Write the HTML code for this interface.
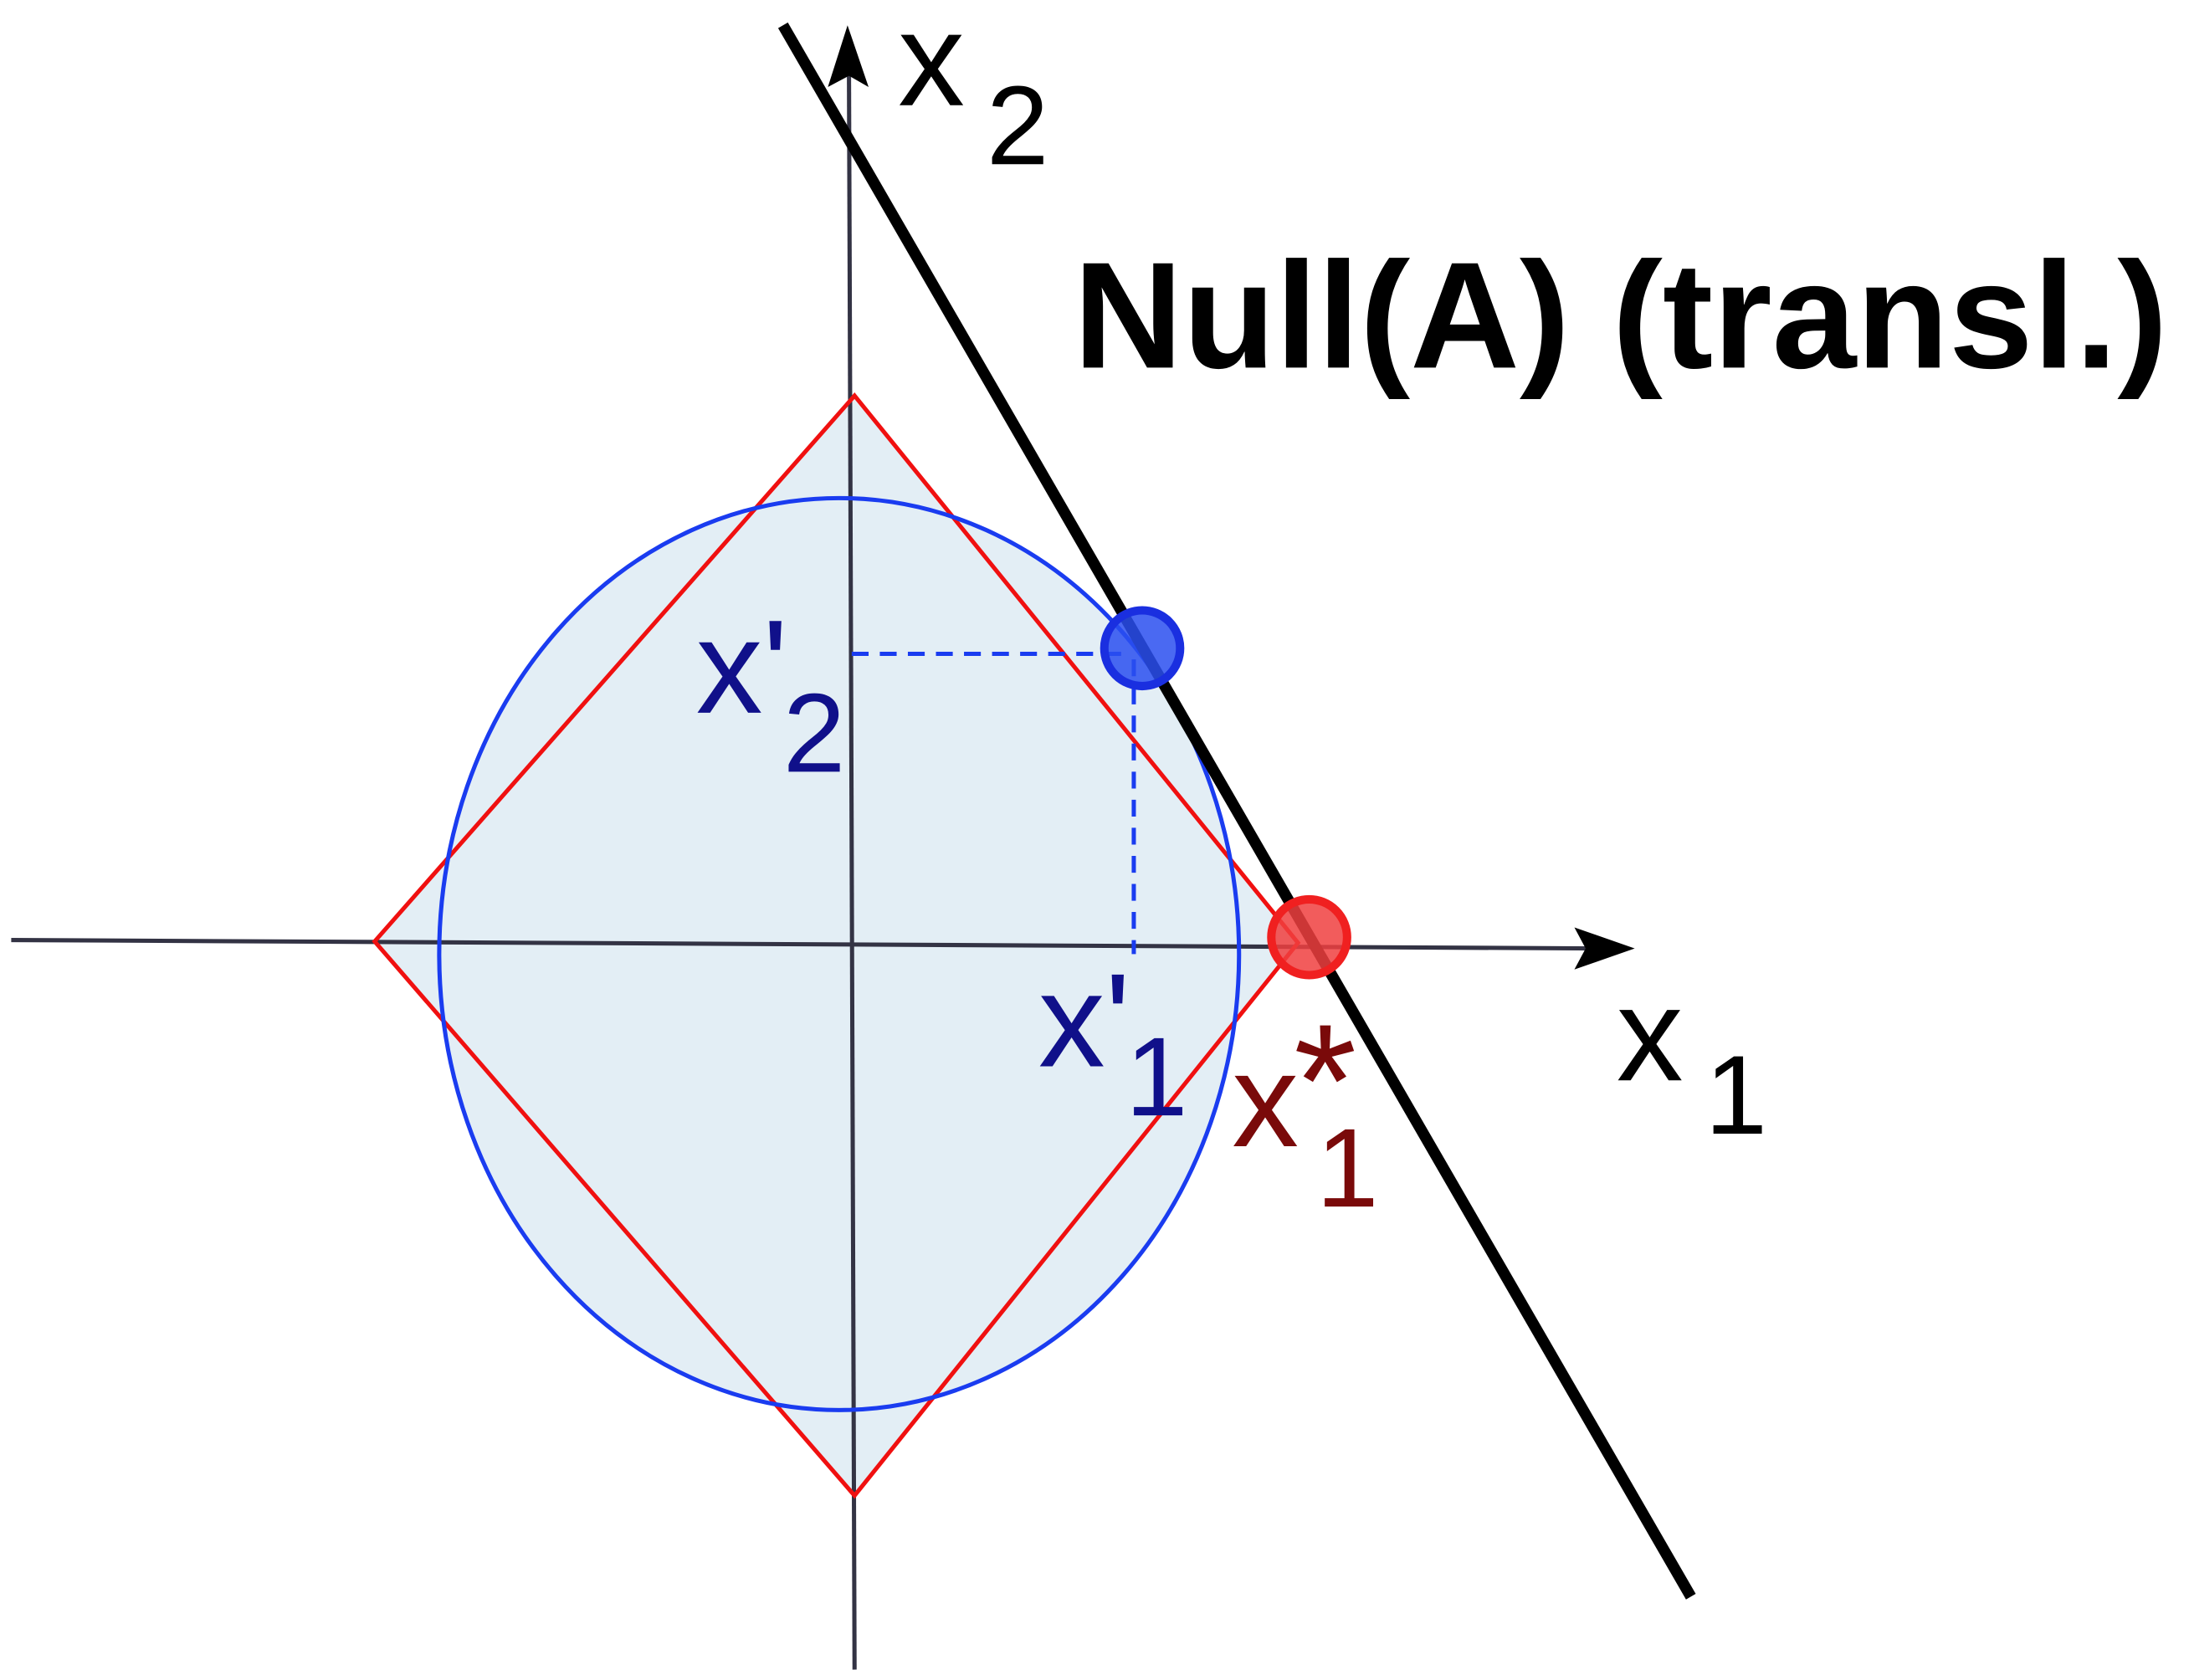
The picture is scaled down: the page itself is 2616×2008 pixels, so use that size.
<!DOCTYPE html>
<html><head><meta charset="utf-8"><style>
html,body{margin:0;padding:0;background:#fff;}
svg{display:block;}
text{font-family:"Liberation Sans",sans-serif;}
</style></head><body>
<svg width="2616" height="2008" viewBox="0 0 1560 1197.4" xmlns="http://www.w3.org/2000/svg">
<ellipse cx="598" cy="680" rx="285" ry="325" fill="#e3eef5"/>
<polygon points="609,282 925,672 609,1066 267,671" fill="#e3eef5"/>
<line x1="8" y1="670" x2="1140" y2="676" stroke="#334" stroke-width="3"/>
<polygon points="1165,676 1122,661 1130,676 1122,691" fill="#000"/>
<line x1="609" y1="1190" x2="605" y2="45" stroke="#334" stroke-width="3"/>
<polygon points="604,18 590,62 605,54 619,62" fill="#000"/>
<polygon points="609,282 925,672 609,1066 267,671" fill="none" stroke="#f01010" stroke-width="3"/>
<ellipse cx="598" cy="680" rx="285" ry="325" fill="none" stroke="#1a3cf0" stroke-width="3"/>
<line x1="607" y1="466" x2="805" y2="466" stroke="#1a3cf0" stroke-width="3" stroke-dasharray="12,8"/>
<line x1="808" y1="470" x2="808" y2="680" stroke="#1a3cf0" stroke-width="3" stroke-dasharray="12,8"/>
<line x1="558" y1="18" x2="1205" y2="1138" stroke="#000" stroke-width="8"/>
<circle cx="814" cy="462" r="27" fill="#2a4ff0" fill-opacity="0.85" stroke="#1a2fe0" stroke-width="6"/>
<circle cx="933" cy="668" r="27" fill="#f04040" fill-opacity="0.85" stroke="#f02020" stroke-width="6"/>
<text x="640" y="75" font-size="95">x</text>
<text x="703" y="117" font-size="80">2</text>
<text x="765" y="262" font-size="108" font-weight="bold">Null(A) (transl.)</text>
<text x="496" y="508" font-size="95" fill="#10108a">x'</text>
<text x="558" y="550" font-size="80" fill="#10108a">2</text>
<text x="740" y="760" font-size="95" fill="#10108a">x'</text>
<text x="802" y="795" font-size="80" fill="#10108a">1</text>
<text x="878" y="817" font-size="95" fill="#7a0a0a">x</text>
<text x="922" y="810" font-size="115" fill="#7a0a0a">*</text>
<text x="938" y="860" font-size="80" fill="#7a0a0a">1</text>
<text x="1152" y="770" font-size="95">x</text>
<text x="1215" y="808" font-size="80">1</text>
</svg>
</body></html>
